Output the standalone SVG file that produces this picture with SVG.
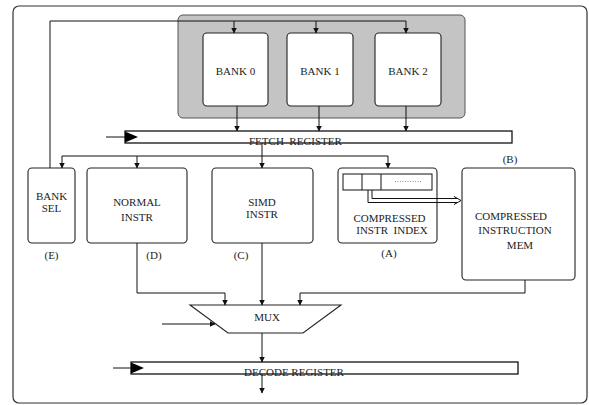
<svg xmlns="http://www.w3.org/2000/svg" width="589" height="405" viewBox="0 0 589 405" font-family="'Liberation Serif', 'Times New Roman', serif">
  <style>
    .frame { fill: #ffffff; stroke: #333333; stroke-width: 1.2; }
    .panel { fill: #c4c4c4; stroke: #555555; stroke-width: 1; }
    .box { fill: #ffffff; stroke: #222222; stroke-width: 1.1; }
    .reg { fill: #ffffff; stroke: #111111; stroke-width: 1.3; }
    .wire { fill: none; stroke: #111111; stroke-width: 1; }
    .clk { fill: #000000; stroke: none; }
    text { font-family: 'Liberation Serif', 'Times New Roman', serif; font-size: 11px; fill: #222222; }
    .mid { text-anchor: middle; }
  </style>
  <defs>
    <marker id="arrow" markerUnits="userSpaceOnUse" markerWidth="6" markerHeight="8" refX="5.5" refY="3" orient="auto">
      <path d="M0,0 L6,3 L0,6 Z" fill="#111111"/>
    </marker>
  </defs>

  <!-- outer frame -->
  <rect class="frame" x="13" y="6" width="574" height="397" rx="6"/>

  <!-- register banks -->
  <g id="banks">
    <rect class="panel" x="178" y="15" width="287" height="103" rx="5"/>
  </g>
  <g id="bank0">
    <rect class="box" x="203" y="33" width="65" height="73" rx="4"/>
    <text class="mid" x="235.5" y="75">BANK 0</text>
  </g>
  <g id="bank1">
    <rect class="box" x="287" y="33" width="66" height="73" rx="4"/>
    <text class="mid" x="320" y="75">BANK 1</text>
  </g>
  <g id="bank2">
    <rect class="box" x="375" y="33" width="66" height="73" rx="4"/>
    <text class="mid" x="408" y="75">BANK 2</text>
  </g>

  <!-- fetch register -->
  <g id="fetch-register">
    <rect class="reg" x="125" y="131" width="387" height="12"/>
    <polygon class="clk" points="125,131.5 138,137 125,142.5"/>
    <text x="249" y="144.5" xml:space="preserve">FETCH  REGISTER</text>
  </g>

  <!-- decode stage boxes -->
  <g id="bank-sel">
    <rect class="box" x="28" y="168" width="47" height="75" rx="4"/>
    <text class="mid" x="51.5" y="200">BANK</text>
    <text class="mid" x="51.5" y="212">SEL</text>
    <text class="mid" x="51.5" y="259">(E)</text>
  </g>
  <g id="normal-instr">
    <rect class="box" x="87" y="168" width="100" height="75" rx="4"/>
    <text class="mid" x="137" y="206">NORMAL</text>
    <text class="mid" x="137" y="221">INSTR</text>
    <text class="mid" x="154" y="259">(D)</text>
  </g>
  <g id="simd-instr">
    <rect class="box" x="212" y="168" width="101" height="75" rx="4"/>
    <text class="mid" x="262" y="206">SIMD</text>
    <text class="mid" x="262" y="218">INSTR</text>
    <text class="mid" x="241" y="259">(C)</text>
  </g>
  <g id="compressed-index">
    <rect class="box" x="338" y="168" width="99" height="75" rx="4"/>
    <rect class="wire" x="343" y="174" width="89" height="16"/>
    <line class="wire" x1="362" y1="174" x2="362" y2="190"/>
    <line class="wire" x1="381" y1="174" x2="381" y2="190"/>
    <line x1="395" y1="181.5" x2="421" y2="181.5" stroke="#777777" stroke-width="0.8" stroke-dasharray="1,1.5"/>
    <text class="mid" x="389.5" y="222">COMPRESSED</text>
    <text class="mid" x="392" y="234" xml:space="preserve">INSTR  INDEX</text>
    <text class="mid" x="389" y="257">(A)</text>
  </g>
  <g id="compressed-mem">
    <rect class="box" x="462" y="168" width="113" height="112" rx="4"/>
    <text class="mid" x="511" y="220">COMPRESSED</text>
    <text class="mid" x="515" y="234">INSTRUCTION</text>
    <text class="mid" x="520" y="249">MEM</text>
    <text class="mid" x="510" y="163">(B)</text>
  </g>

  <!-- multiplexer -->
  <g id="mux">
    <polygon class="box" points="190,305 341,305 303,333 228,333"/>
    <text class="mid" x="267" y="321">MUX</text>
  </g>

  <!-- decode register -->
  <g id="decode-register">
    <rect class="reg" x="131" y="362" width="387" height="12"/>
    <polygon class="clk" points="131,362.5 144,368 131,373.5"/>
    <text x="244" y="375.5">DECODE REGISTER</text>
  </g>

  <!-- connectors -->
  <g id="connectors">
    <!-- bank select feedback to the banks -->
    <polyline class="wire" points="50,168 50,21 406,21"/>
    <line class="wire" x1="234" y1="21" x2="234" y2="33" marker-end="url(#arrow)"/>
    <line class="wire" x1="316" y1="21" x2="316" y2="33" marker-end="url(#arrow)"/>
    <line class="wire" x1="406" y1="21" x2="406" y2="33" marker-end="url(#arrow)"/>
    <!-- banks into fetch register -->
    <line class="wire" x1="237" y1="106" x2="237" y2="131" marker-end="url(#arrow)"/>
    <line class="wire" x1="319" y1="106" x2="319" y2="131" marker-end="url(#arrow)"/>
    <line class="wire" x1="406" y1="106" x2="406" y2="131" marker-end="url(#arrow)"/>
    <!-- fetch clock -->
    <line class="wire" x1="106" y1="137" x2="125" y2="137"/>
    <!-- fetch register fan-out -->
    <line class="wire" x1="262" y1="143" x2="262" y2="156"/>
    <line class="wire" x1="62" y1="156" x2="388" y2="156"/>
    <line class="wire" x1="62" y1="156" x2="62" y2="168" marker-end="url(#arrow)"/>
    <line class="wire" x1="137" y1="156" x2="137" y2="168" marker-end="url(#arrow)"/>
    <line class="wire" x1="262" y1="156" x2="262" y2="168" marker-end="url(#arrow)"/>
    <line class="wire" x1="388" y1="156" x2="388" y2="168" marker-end="url(#arrow)"/>
    <!-- index into compressed memory (double line) -->
    <polyline class="wire" points="368,190 368,202.5 457,202.5"/>
    <polyline class="wire" points="372,190 372,198.5 457,198.5"/>
    <polyline class="wire" points="454,196.5 461,200.5 454,204.5"/>
    <!-- inputs to the multiplexer -->
    <polyline class="wire" points="137,243 137,293 225,293 225,305" marker-end="url(#arrow)"/>
    <line class="wire" x1="262" y1="243" x2="262" y2="305" marker-end="url(#arrow)"/>
    <polyline class="wire" points="525,280 525,293 300,293 300,305" marker-end="url(#arrow)"/>
    <line class="wire" x1="162" y1="324" x2="215" y2="324" marker-end="url(#arrow)"/>
    <!-- multiplexer to decode register -->
    <line class="wire" x1="262" y1="333" x2="262" y2="362" marker-end="url(#arrow)"/>
    <line class="wire" x1="113" y1="368" x2="131" y2="368"/>
    <line class="wire" x1="262" y1="374" x2="262" y2="393" marker-end="url(#arrow)"/>
  </g>
</svg>
